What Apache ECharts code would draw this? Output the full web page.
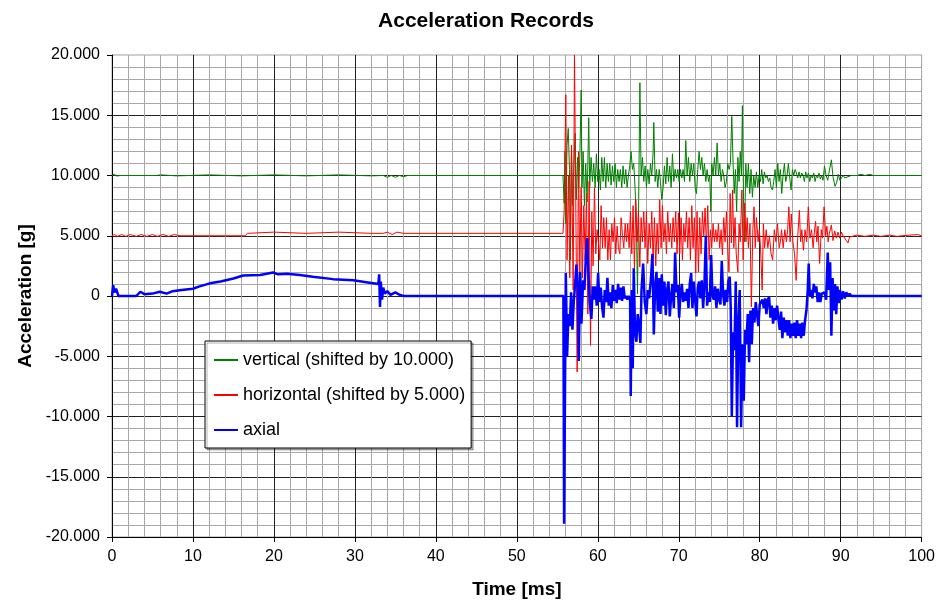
<!DOCTYPE html>
<html>
<head>
<meta charset="utf-8">
<title>Acceleration Records</title>
<script src="https://cdn.jsdelivr.net/npm/echarts@6/dist/echarts.min.js"></script>
<style>
  html, body { margin: 0; padding: 0; background: #fff; }
  #chart { width: 938px; height: 605px; }
</style>
</head>
<body>
<div id="chart"></div>
<script>
// time [ms], acceleration [g] (already shifted as plotted)
const seriesNames = ["vertical (shifted by 10.000)", "horizontal (shifted by 5.000)", "axial"];
const xTicks = [0, 10, 20, 30, 40, 50, 60, 70, 80, 90, 100];
const yTicks = [-20, -15, -10, -5, 0, 5, 10, 15, 20];

const vertical = [
  [0, 10], [0.3, 10.1], [0.6, 9.95], [1, 10], [5.5, 10], [6, 10.05], [8, 9.97], [12, 10.05], [16, 9.97],
  [20, 10.05], [24, 9.97], [28, 10.05], [32, 9.97], [33.5, 10], [34, 9.85], [34.5, 10], [35, 9.85],
  [35.5, 10], [36, 9.9], [36.5, 10], [55.7, 10],
  [55.75, 10], [55.85, 7.7], [55.95, 12.0], [56.05, 6.0], [56.2, 12.5], [56.35, 13.9], [56.5, 10.5],
  [56.62, 3.0], [56.75, 12.5], [56.9, 7.5], [57.05, 11.0], [57.2, 13.5], [57.35, 8.0], [57.5, 11.5],
  [57.65, 9.0], [57.8, 12.0], [57.95, 17.1], [58.05, 9.0], [58.19, 12.0], [58.35, 7.5], [58.51, 11.0],
  [58.68, 7.8], [58.88, 14.8], [59.0, 9.0], [59.17, 11.5], [59.34, 9.5], [59.5, 11.0], [59.67, 9.0],
  [59.83, 11.8], [60.0, 9.5], [60.16, 10.5], [60.33, 8.8], [60.49, 11.5], [60.66, 9.5], [60.82, 11.5],
  [60.98, 9.0], [61.15, 11.0], [61.31, 9.5], [61.48, 11.0], [61.64, 9.2], [61.81, 10.8], [61.97, 9.5],
  [62.14, 11.0], [62.3, 9.0], [62.46, 10.5], [62.63, 9.5], [62.79, 10.5], [62.96, 9.0], [63.12, 10.8],
  [63.29, 9.3], [63.45, 10.5], [63.62, 9.0], [63.78, 10.0], [63.95, 10.8], [64.11, 12.0], [64.28, 10.5],
  [64.44, 11.0], [64.6, 9.0], [64.77, 6.0], [64.9, 0.2], [65.05, 8.0], [65.2, 17.7], [65.35, 10.0],
  [65.52, 11.5], [65.68, 9.5], [65.85, 10.8], [66.01, 9.0], [66.18, 10.5], [66.34, 9.3], [66.51, 11.0],
  [66.67, 10.0], [66.84, 12.0], [66.92, 14.4], [67.08, 9.5], [67.25, 10.5], [67.41, 9.0], [67.58, 10.5],
  [67.74, 9.5], [67.9, 8.0], [68.07, 9.0], [68.23, 10.8], [68.4, 9.3], [68.56, 11.5], [68.73, 9.5],
  [68.89, 10.8], [69.06, 9.0], [69.22, 11.8], [69.39, 9.5], [69.55, 10.5], [69.72, 9.8], [69.88, 10.5],
  [70.05, 9.5], [70.21, 10.5], [70.38, 9.8], [70.54, 10.5], [70.71, 9.5], [70.87, 12.9], [71.03, 10.0],
  [71.2, 11.5], [71.36, 9.5], [71.53, 11.0], [71.69, 10.0], [71.86, 11.0], [72.02, 9.0], [72.19, 8.5],
  [72.35, 10.5], [72.51, 12.0], [72.68, 10.5], [72.84, 11.5], [73.01, 10.0], [73.17, 11.0], [73.34, 9.5],
  [73.5, 10.5], [73.67, 9.5], [73.83, 10.0], [73.96, 7.0], [74.08, 11.0], [74.24, 10.0], [74.41, 11.5],
  [74.57, 10.0], [74.74, 12.7], [74.9, 10.0], [75.07, 11.0], [75.23, 9.5], [75.4, 10.5], [75.56, 10.0],
  [75.72, 9.0], [75.89, 9.5], [76.05, 11.0], [76.22, 10.5], [76.38, 11.0], [76.55, 14.9], [76.71, 11.0],
  [76.85, 8.5], [77.0, 10.5], [77.15, 7.0], [77.3, 11.5], [77.45, 9.5], [77.6, 12.0], [77.74, 10.0],
  [77.86, 15.8], [78.0, 8.0], [78.12, 4.5], [78.28, 11.0], [78.44, 9.0], [78.6, 11.0], [78.77, 8.5],
  [78.93, 10.5], [79.1, 8.2], [79.26, 10.0], [79.43, 9.0], [79.59, 10.3], [79.76, 9.0], [79.92, 10.0],
  [80.09, 9.5], [80.25, 10.5], [80.42, 9.3], [80.58, 10.3], [80.74, 9.8], [80.91, 10.0], [81.07, 9.5],
  [81.24, 9.8], [81.4, 9.0], [81.57, 8.8], [81.73, 9.5], [81.9, 10.5], [82.06, 9.0], [82.23, 11.0],
  [82.39, 9.5], [82.55, 10.5], [82.72, 8.5], [82.88, 10.0], [83.05, 11.0], [83.21, 9.5], [83.38, 10.0],
  [83.54, 11.0], [83.71, 9.8], [83.87, 8.8], [84.04, 10.5], [84.2, 10.0], [84.37, 10.5], [84.53, 10.2],
  [84.69, 9.8], [84.86, 10.3], [85.02, 9.8], [85.19, 10.2], [85.35, 10.0], [85.52, 9.5], [85.68, 10.3],
  [85.84, 9.8], [86.01, 10.2], [86.18, 9.5], [86.34, 10.0], [86.51, 9.8], [86.67, 10.2], [86.84, 9.5],
  [87.0, 10.0], [87.16, 9.8], [87.33, 10.2], [87.49, 9.7], [87.66, 10.0], [87.82, 9.6], [88.0, 10.8],
  [88.2, 10.0], [88.4, 9.6], [88.6, 10.4], [88.85, 11.3], [89.05, 9.9], [89.3, 9.1], [89.5, 9.4],
  [89.7, 10.1], [89.9, 9.6], [90.1, 9.7], [90.3, 10.0], [90.5, 9.8], [90.7, 9.8], [90.9, 9.9], [91.1, 9.8],
  [91.3, 10.0], [91.5, 10.1], [92, 10], [92.5, 10.1], [93, 10], [93.6, 10.1], [94, 10], [100, 10]
];

const horizontal = [
  [0, 5], [0.3, 5.1], [0.7, 4.95], [1.2, 5.1], [1.7, 4.95], [2.3, 5.1], [3, 4.95], [3.6, 5.1], [4.3, 4.95],
  [5, 5.1], [5.6, 4.95], [6.3, 5.1], [7, 4.95], [7.7, 5.1], [8.4, 5], [16.5, 5], [16.7, 5.2], [20, 5.3],
  [24, 5.2], [28, 5.3], [32, 5.2], [33.5, 5.2], [34, 5.3], [34.6, 5.1], [35.2, 5.3], [36, 5.2], [55.7, 5.2],
  [55.75, 5.2], [55.85, 7.0], [56.05, 16.7], [56.2, 3.0], [56.38, 10.0], [56.54, 1.5], [56.75, 12.5],
  [56.96, 0.5], [57.12, 20], [57.28, 8.0], [57.45, -6.3], [57.61, 12.0], [57.78, 2.0], [57.94, 9.0],
  [58.11, 1.5], [58.27, 7.5], [58.44, 3.0], [58.6, 8.5], [58.77, -1.5], [58.93, 9.5], [59.1, -4.1],
  [59.26, 7.0], [59.42, 2.5], [59.59, 9.0], [59.75, 3.5], [59.92, 5.5], [60.08, 4.5], [60.25, 3.0],
  [60.41, 7.5], [60.58, 4.0], [60.74, 6.5], [60.91, 4.0], [61.07, 6.5], [61.24, 3.0], [61.4, 5.5],
  [61.56, 3.0], [61.73, 6.0], [61.89, 4.5], [62.06, 6.5], [62.22, 3.5], [62.39, 5.8], [62.55, 4.0],
  [62.72, 3.5], [62.88, 6.5], [63.05, 5.0], [63.21, 4.0], [63.38, 6.0], [63.54, 4.5], [63.7, 6.0],
  [63.87, 4.0], [64.03, 7.0], [64.2, 3.5], [64.36, 7.5], [64.53, 2.0], [64.69, 8.0], [64.86, 4.5],
  [65.02, 7.0], [65.19, 2.4], [65.35, 6.5], [65.51, 4.5], [65.68, 7.0], [65.84, 4.0], [66.01, 7.0],
  [66.17, 2.7], [66.34, 6.0], [66.5, 4.0], [66.67, 7.0], [66.83, 3.0], [67.0, 6.5], [67.16, 2.5],
  [67.33, 6.0], [67.49, 3.5], [67.65, 8.0], [67.82, 4.0], [67.98, 7.5], [68.15, 4.5], [68.31, 6.0],
  [68.48, 3.5], [68.64, 7.0], [68.81, 4.5], [68.97, 6.0], [69.14, 4.0], [69.3, 6.5], [69.46, 4.5],
  [69.63, 7.0], [69.79, 3.5], [69.96, 6.9], [70.12, 3.5], [70.29, 6.5], [70.45, 3.0], [70.62, 6.0],
  [70.78, 4.5], [70.95, 7.0], [71.11, 4.0], [71.28, 6.5], [71.44, 3.0], [71.61, 7.5], [71.77, 4.0],
  [71.93, 6.5], [72.1, 1.9], [72.26, 7.0], [72.43, 2.0], [72.59, 6.5], [72.76, 3.5], [72.92, 7.0],
  [73.09, 5.0], [73.25, 7.3], [73.42, 4.0], [73.58, 7.5], [73.75, 3.0], [73.91, 5.5], [74.07, 4.0],
  [74.24, 6.0], [74.4, 4.5], [74.57, 5.5], [74.73, 4.5], [74.9, 6.0], [75.06, 4.0], [75.23, 5.5],
  [75.39, 3.4], [75.56, 6.5], [75.72, 4.5], [75.89, 7.0], [76.05, 4.0], [76.2, 2.0], [76.35, 8.5],
  [76.5, 4.4], [76.65, 8.8], [76.8, 4.0], [76.95, 6.5], [77.1, 3.5], [77.3, 2.0], [77.45, 6.0],
  [77.6, 4.5], [77.8, 8.8], [77.95, 3.0], [78.15, 7.7], [78.3, 4.5], [78.45, 6.5], [78.6, 4.0],
  [78.8, 6.0], [78.97, -0.9], [79.15, 5.5], [79.3, 7.4], [79.45, 4.0], [79.6, 6.5], [79.8, 4.5],
  [79.95, 5.5], [80.1, 4.0], [80.3, 0.5], [80.45, 6.0], [80.6, 4.0], [80.8, 5.5], [81.0, 4.0],
  [81.2, 5.0], [81.4, 3.5], [81.6, 3.0], [81.8, 5.5], [82.0, 4.5], [82.2, 6.0], [82.4, 4.0],
  [82.55, 4.5], [82.7, 5.5], [82.9, 4.0], [83.1, 5.5], [83.3, 4.5], [83.45, 5.5], [83.6, 7.4],
  [83.75, 4.5], [83.9, 6.8], [84.1, 4.5], [84.3, 3.5], [84.5, 1.3], [84.7, 5.0], [84.9, 7.1],
  [85.05, 4.5], [85.2, 5.5], [85.4, 3.8], [85.6, 5.5], [85.8, 4.5], [86.0, 7.4], [86.2, 4.8],
  [86.4, 5.5], [86.6, 4.0], [86.75, 5.3], [86.9, 6.2], [87.05, 4.5], [87.2, 5.8], [87.4, 2.7],
  [87.6, 5.5], [87.75, 4.8], [87.95, 7.4], [88.15, 5.0], [88.3, 5.8], [88.45, 4.5], [88.6, 5.2],
  [88.85, 5.9], [89.05, 4.6], [89.26, 5.4], [89.47, 4.8], [89.67, 5.3], [89.88, 4.8], [90.1, 5.3],
  [90.3, 5.0], [90.5, 5.1], [90.7, 4.6], [90.9, 4.4], [91.1, 4.9], [91.2, 5], [92, 5.05], [93, 4.95],
  [94, 5.05], [95, 4.95], [96, 5.05], [97, 4.95], [97.5, 5], [99.5, 5.1], [100, 5]
];

const axial = [
  [0, 0], [0.15, 0.9], [0.3, 0.3], [0.5, 0.6], [0.8, 0], [3, 0], [3.5, 0.35], [4, 0.15], [5, 0.2],
  [5.9, 0.35], [6.75, 0.2], [7.5, 0.4], [8.6, 0.5], [10, 0.6], [10.8, 0.8], [12.1, 1.05], [13.4, 1.2],
  [15, 1.45], [16.2, 1.7], [18.3, 1.75], [19.9, 1.95], [20.5, 1.8], [21.6, 1.85], [23.2, 1.75],
  [24.8, 1.6], [27.3, 1.4], [29.8, 1.3], [31.4, 1.15], [32.9, 1.0], [33.0, 1.8], [33.1, -0.9],
  [33.2, 1.2], [33.35, -0.3], [33.5, 0.7], [33.7, 0.2], [34, 0.4], [34.4, 0.1], [35, 0.3], [35.5, 0.1],
  [36, 0], [55.75, 0],
  [55.84, -18.9], [56.05, 1.9], [56.21, -5.0], [56.37, -1.5], [56.54, -2.5], [56.7, 0.3], [56.87, -2.8],
  [57.03, -0.5], [57.2, 1.0], [57.36, 2.6], [57.53, 0.5], [57.65, -5.4], [57.81, 2.0], [57.98, -2.3],
  [58.19, 1.3], [58.35, 0.5], [58.51, 3.0], [58.68, 4.8], [58.84, 2.0], [59.0, -0.5], [59.21, -1.9],
  [59.38, 0.8], [59.54, -0.3], [59.7, 0.8], [59.87, -0.8], [60.04, 1.9], [60.2, -0.5], [60.37, 0.7],
  [60.53, -0.9], [60.7, -1.8], [60.86, 0.5], [61.03, -0.5], [61.19, 1.5], [61.35, -0.8], [61.52, 0.3],
  [61.68, -1.0], [61.85, 0.9], [62.01, -0.4], [62.18, 0.5], [62.34, -0.6], [62.51, 1.0], [62.67, -0.3],
  [62.84, 0.7], [63.0, -0.4], [63.17, 0.8], [63.33, -0.2], [63.5, 0.0], [63.66, -0.3], [63.82, 0.0],
  [63.99, -0.2], [64.07, -8.3], [64.2, 0.5], [64.32, -6.0], [64.44, 2.3], [64.6, -3.0], [64.77, -3.8],
  [64.93, -1.5], [65.1, -2.5], [65.26, -3.9], [65.4, 0.5], [65.6, 2.7], [65.8, -0.5], [66.0, -1.5],
  [66.18, 0.5], [66.34, -0.2], [66.55, 1.3], [66.75, 3.5], [66.92, -3.2], [67.08, 0.8], [67.25, 2.0],
  [67.41, -1.3], [67.58, 1.5], [67.74, -1.5], [67.9, 1.8], [68.07, -0.8], [68.23, 1.2], [68.4, -1.6],
  [68.56, 0.5], [68.73, 1.2], [68.89, -1.7], [69.06, 0.0], [69.22, 1.0], [69.39, -1.0], [69.55, 3.6],
  [69.72, 0.3], [69.88, 0.9], [70.05, -1.8], [70.21, 0.2], [70.38, 1.0], [70.54, -0.5], [70.71, 0.3],
  [70.87, -0.4], [71.03, 0.6], [71.2, -1.0], [71.36, 1.0], [71.53, 1.9], [71.69, -1.0], [71.86, 1.2],
  [72.02, -0.3], [72.19, -1.7], [72.35, 0.7], [72.51, 1.2], [72.68, -0.2], [72.84, 1.3], [73.01, -1.0],
  [73.17, 0.9], [73.34, 5.0], [73.5, -0.8], [73.67, 0.3], [73.83, -0.5], [74.0, 3.4], [74.16, 0.0],
  [74.33, -0.3], [74.49, 0.8], [74.65, -1.0], [74.82, 0.6], [74.98, -0.3], [75.15, -0.7], [75.31, 2.9],
  [75.48, 0.2], [75.64, -0.8], [75.8, 0.5], [75.97, -0.5], [76.14, 1.3], [76.3, 1.6], [76.42, -1.0],
  [76.55, -10.0], [76.71, -3.0], [76.88, -4.5], [77.04, 1.2], [77.2, -10.9], [77.37, -2.0], [77.53, 0.5],
  [77.7, -10.9], [77.86, -4.0], [78.03, -8.7], [78.19, -2.8], [78.36, -4.0], [78.52, -1.5], [78.69, -5.5],
  [78.85, -1.2], [79.02, -4.0], [79.18, -1.0], [79.35, -2.2], [79.51, -0.5], [79.68, -1.6], [79.84, -2.5],
  [80.0, -0.7], [80.17, -0.8], [80.33, -0.3], [80.5, -1.0], [80.66, -0.2], [80.83, -1.5], [80.99, -0.3],
  [81.16, -0.1], [81.32, -1.8], [81.49, -0.8], [81.65, -2.3], [81.81, -1.0], [81.98, -2.0], [82.14, -0.8],
  [82.31, -0.8], [82.47, -2.8], [82.64, -1.3], [82.8, -3.5], [82.97, -1.8], [83.13, -3.0], [83.3, -2.0],
  [83.46, -3.3], [83.63, -2.0], [83.79, -3.5], [83.95, -2.3], [84.12, -3.3], [84.28, -2.2], [84.45, -3.5],
  [84.61, -2.0], [84.78, -3.3], [84.94, -2.3], [85.11, -3.5], [85.27, -2.2], [85.44, -3.3], [85.6, -2.0],
  [85.77, -1.2], [85.93, 0.5], [86.05, 2.7], [86.18, 0.0], [86.35, 0.5], [86.51, -0.2], [86.68, 1.0],
  [86.84, 0.3], [86.99, 0.8], [87.16, -0.5], [87.33, 0.3], [87.49, -0.5], [87.66, 0.2], [87.82, 0.1],
  [88.0, 0.3], [88.2, -0.3], [88.4, 3.6], [88.55, 0.5], [88.7, 2.8], [88.85, -3.3], [89.0, 1.5],
  [89.15, -1.2], [89.3, 1.0], [89.45, -1.5], [89.6, 0.8], [89.75, -0.6], [89.9, 0.5], [90.1, -0.3],
  [90.3, 0.4], [90.5, -0.2], [90.7, 0.3], [90.9, 0.0], [91.1, 0.2], [91.3, 0], [100, 0]
];

const FONT = "'Liberation Sans', Arial, sans-serif";

let chart = echarts.init(document.getElementById("chart"));

let option = {
  animation: false,
  backgroundColor: "#fff",
  title: {
    text: "Acceleration Records",
    left: 486,
    top: 11,
    textAlign: "center",
    padding: 0,
    textStyle: { fontFamily: FONT, fontSize: 21, fontWeight: "bold", color: "#000" },
  },
  legend: {
    data: seriesNames,
    orient: "vertical",
    left: 205,
    top: 341,
    itemWidth: 24,
    itemHeight: 14,
    itemGap: 17,
    padding: [10, 6, 9, 8],
    backgroundColor: "#fff",
    borderColor: "#000",
    borderWidth: 1,
    shadowColor: "rgba(0,0,0,0.3)",
    shadowOffsetX: 2,
    shadowOffsetY: 2,
    // only the line sample, no marker
    itemStyle: { opacity: 0 },
    textStyle: { fontFamily: FONT, fontSize: 18, lineHeight: 18, color: "#000" },
  },
  grid: {
    left: 112,
    right: 16,
    top: 55,
    bottom: 68,
    show: true,
    borderColor: "#a0a0a0",
    borderWidth: 1,
  },
  xAxis: {
    type: "value",
    min: xTicks[0],
    max: xTicks[xTicks.length - 1],
    interval: 10,
    name: "Time [ms]",
    nameLocation: "middle",
    nameGap: 43,
    nameTextStyle: { fontFamily: FONT, fontSize: 19, fontWeight: "bold", color: "#000" },
    axisLine: { onZero: false, lineStyle: { color: "#000", width: 1 } },
    axisTick: { show: true, length: 5, lineStyle: { color: "#000" } },
    axisLabel: { fontFamily: FONT, fontSize: 16, color: "#000", margin: 12 },
    splitLine: { show: true, showMaxLine: false, lineStyle: { color: "#222", width: 1 } },
    minorTick: { show: false, splitNumber: 5 },
    minorSplitLine: { show: true, lineStyle: { color: "#a8a8a8", width: 1 } },
  },
  yAxis: {
    type: "value",
    min: yTicks[0],
    max: yTicks[yTicks.length - 1],
    interval: 5,
    name: "Acceleration [g]",
    nameLocation: "middle",
    nameGap: 74,
    nameTextStyle: { fontFamily: FONT, fontSize: 19, fontWeight: "bold", color: "#000" },
    axisLine: { show: true, lineStyle: { color: "#000", width: 1 } },
    axisTick: { show: true, length: 5, lineStyle: { color: "#000" } },
    axisLabel: {
      fontFamily: FONT,
      fontSize: 16,
      color: "#000",
      margin: 12,
      formatter: (v) => (v === 0 ? "0" : v.toFixed(3)),
    },
    splitLine: { show: true, showMaxLine: false, lineStyle: { color: "#222", width: 1 } },
    minorTick: { show: false, splitNumber: 5 },
    minorSplitLine: { show: true, lineStyle: { color: "#a8a8a8", width: 1 } },
  },
  series: [
    {
      name: seriesNames[0],
      type: "line",
      symbol: "none",
      data: vertical,
      lineStyle: { color: "#008000", width: 1 },
      itemStyle: { color: "#008000" },
    },
    {
      name: seriesNames[1],
      type: "line",
      symbol: "none",
      data: horizontal,
      lineStyle: { color: "#ff0000", width: 1 },
      itemStyle: { color: "#ff0000" },
    },
    {
      name: seriesNames[2],
      type: "line",
      symbol: "none",
      data: axial,
      lineStyle: { color: "#0000ff", width: 2.5 },
      itemStyle: { color: "#0000ff" },
    },
  ],
};

chart.setOption(option);
</script>
</body>
</html>
